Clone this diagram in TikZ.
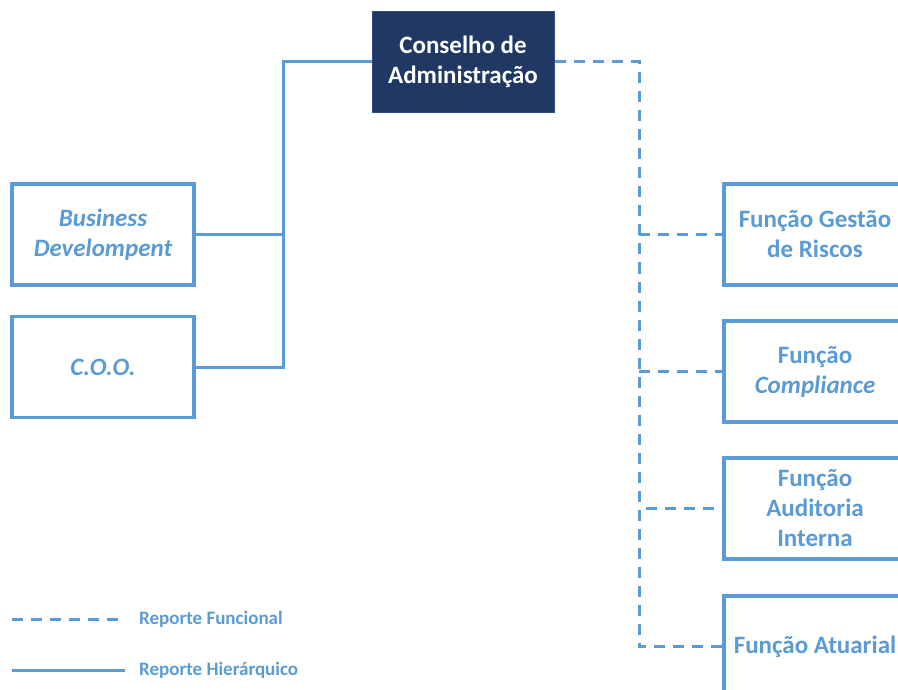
\documentclass[tikz,border=0pt]{standalone}
\usepackage{fontspec}
\setmainfont{Carlito}
\definecolor{lineblue}{HTML}{5B9BD5}
\definecolor{navy}{HTML}{203864}
\definecolor{navyedge}{HTML}{2F5083}
\begin{document}
\begin{tikzpicture}[x=1pt,y=-1pt,
  box/.style={draw=lineblue,line width=3.5pt,fill=white,minimum width=182pt,minimum height=101pt,
    align=center,font=\fontsize{25}{30}\selectfont\bfseries,text=lineblue,inner sep=0pt},
  topbox/.style={box,fill=navy,draw=navyedge,line width=1pt,text=white},
  hier/.style={draw=lineblue,line width=3pt},
  func/.style={draw=lineblue,line width=3pt,dash pattern=on 11pt off 8pt},
  legend/.style={anchor=west,inner sep=0pt,text=lineblue,font=\fontsize{19}{22}\selectfont\bfseries}]
\useasboundingbox (0,0) rectangle (898,690);
\clip (0,0) rectangle (898,690);
\node[topbox] (cons) at (463,62) {Conselho de\\Administração};
\node[box] (bd) at (103,234.5) {\itshape Business\\\itshape Develompent};
\node[box] (coo) at (103,367) {\itshape C.O.O.};
\node[box] (gr) at (815,234.5) {Função Gestão\\de Riscos};
\node[box] (comp) at (815,371.5) {Função\\\itshape Compliance};
\node[box] (aud) at (815,508.5) {Função\\Auditoria\\Interna};
\node[box] (atu) at (815,646.5) {Função Atuarial};
\coordinate (j1) at (283,62);
\coordinate (j2) at (639,62);
\draw[hier] (cons.west) -- (j1) |- (coo.east);
\draw[hier] (bd.east) -- (bd.east -| j1);
\draw[func] (cons.east) -- (j2) |- (atu.west);
\draw[func] (gr.west -| j2) -- (gr.west);
\draw[func] (comp.west -| j2) -- (comp.west);
\draw[func] ([xshift=7pt]aud.west -| j2) -- (aud.west);
\node[legend] (lf) at (139,619) {Reporte Funcional};
\node[legend] (lh) at (139,670) {Reporte Hierárquico};
\coordinate (lfs) at (12,619);
\coordinate (lhs) at (12,670);
\draw[func] (lfs) -- ([xshift=-14pt]lf.west);
\draw[hier] (lhs) -- ([xshift=-14pt]lh.west);
\end{tikzpicture}
\end{document}
